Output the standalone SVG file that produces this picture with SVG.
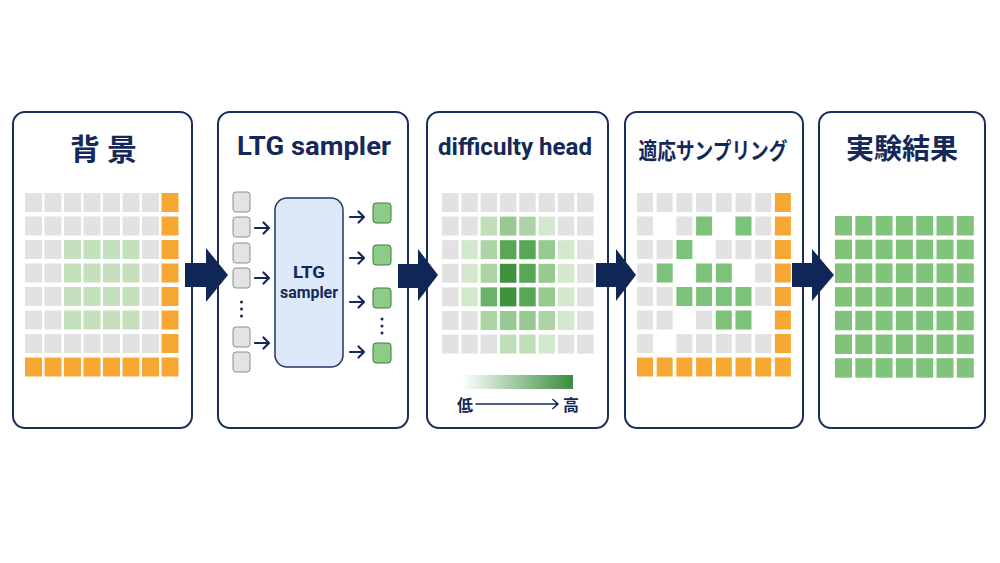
<svg xmlns="http://www.w3.org/2000/svg" width="1000" height="563" viewBox="0 0 1000 563">
<style>
.panel{fill:#fff;stroke:#1b2d5a;stroke-width:2}
.t{font-family:"Roboto","Liberation Sans",sans-serif;font-weight:700;fill:#15285a;text-anchor:middle}
.tj{font-family:"Noto Sans CJK JP",sans-serif;font-weight:700;fill:#15285a;text-anchor:middle}
.g{fill:#e2e2e2}
.o{fill:#f7a833}
.p{fill:#c5e0bd}
.e{fill:#7cc27a}
.f{fill:#80c47c}
.h1{fill:#d3e9cd}.h15{fill:#c0dfb9}.h2{fill:#acd4a5}.h25{fill:#97ca90}.h35{fill:#6cb268}.h4{fill:#58a757}.h5{fill:#3f933f}
.sb{fill:#e3e3e3;stroke:#8e8e8e;stroke-width:1}
.gb{fill:#8ccc86;stroke:#3d7a3d;stroke-width:1}
.sa{fill:none;stroke:#15285a;stroke-width:2.2;stroke-linecap:round;stroke-linejoin:round}
.big{fill:#0f2657}
.dot{fill:#15285a}
</style>
<defs>
<linearGradient id="grad" x1="0" y1="0" x2="1" y2="0">
<stop offset="0" stop-color="#ffffff"/>
<stop offset="1" stop-color="#3a8c3d"/>
</linearGradient>
</defs>
<rect width="1000" height="563" fill="#fff"/>

<g id="panel1">
<rect class="panel" x="13" y="112" width="179" height="316" rx="12"/>
<text class="tj" x="103.5" y="160" font-size="30">背 景</text>
<g id="grid1">
<g transform="translate(0,193)"><rect class="g" x="25" width="17" height="19"/><rect class="g" x="44.5" width="17" height="19"/><rect class="g" x="64" width="17" height="19"/><rect class="g" x="83.5" width="17" height="19"/><rect class="g" x="103" width="17" height="19"/><rect class="g" x="122.5" width="17" height="19"/><rect class="g" x="142" width="17" height="19"/><rect class="o" x="161.5" width="17" height="19"/></g>
<g transform="translate(0,216.5)"><rect class="g" x="25" width="17" height="19"/><rect class="g" x="44.5" width="17" height="19"/><rect class="g" x="64" width="17" height="19"/><rect class="g" x="83.5" width="17" height="19"/><rect class="g" x="103" width="17" height="19"/><rect class="g" x="122.5" width="17" height="19"/><rect class="g" x="142" width="17" height="19"/><rect class="o" x="161.5" width="17" height="19"/></g>
<g transform="translate(0,240)"><rect class="g" x="25" width="17" height="19"/><rect class="g" x="44.5" width="17" height="19"/><rect class="p" x="64" width="17" height="19"/><rect class="p" x="83.5" width="17" height="19"/><rect class="p" x="103" width="17" height="19"/><rect class="p" x="122.5" width="17" height="19"/><rect class="g" x="142" width="17" height="19"/><rect class="o" x="161.5" width="17" height="19"/></g>
<g transform="translate(0,263.5)"><rect class="g" x="25" width="17" height="19"/><rect class="g" x="44.5" width="17" height="19"/><rect class="p" x="64" width="17" height="19"/><rect class="p" x="83.5" width="17" height="19"/><rect class="p" x="103" width="17" height="19"/><rect class="p" x="122.5" width="17" height="19"/><rect class="g" x="142" width="17" height="19"/><rect class="o" x="161.5" width="17" height="19"/></g>
<g transform="translate(0,287)"><rect class="g" x="25" width="17" height="19"/><rect class="g" x="44.5" width="17" height="19"/><rect class="p" x="64" width="17" height="19"/><rect class="p" x="83.5" width="17" height="19"/><rect class="p" x="103" width="17" height="19"/><rect class="p" x="122.5" width="17" height="19"/><rect class="g" x="142" width="17" height="19"/><rect class="o" x="161.5" width="17" height="19"/></g>
<g transform="translate(0,310.5)"><rect class="g" x="25" width="17" height="19"/><rect class="g" x="44.5" width="17" height="19"/><rect class="p" x="64" width="17" height="19"/><rect class="p" x="83.5" width="17" height="19"/><rect class="p" x="103" width="17" height="19"/><rect class="p" x="122.5" width="17" height="19"/><rect class="g" x="142" width="17" height="19"/><rect class="o" x="161.5" width="17" height="19"/></g>
<g transform="translate(0,334)"><rect class="g" x="25" width="17" height="19"/><rect class="g" x="44.5" width="17" height="19"/><rect class="g" x="64" width="17" height="19"/><rect class="g" x="83.5" width="17" height="19"/><rect class="g" x="103" width="17" height="19"/><rect class="g" x="122.5" width="17" height="19"/><rect class="g" x="142" width="17" height="19"/><rect class="o" x="161.5" width="17" height="19"/></g>
<g transform="translate(0,357.5)"><rect class="o" x="25" width="17" height="19"/><rect class="o" x="44.5" width="17" height="19"/><rect class="o" x="64" width="17" height="19"/><rect class="o" x="83.5" width="17" height="19"/><rect class="o" x="103" width="17" height="19"/><rect class="o" x="122.5" width="17" height="19"/><rect class="o" x="142" width="17" height="19"/><rect class="o" x="161.5" width="17" height="19"/></g>
</g>
</g>

<g id="panel2">
<rect class="panel" x="218" y="112" width="190" height="316" rx="12"/>
<text class="t" x="314" y="155" font-size="25" textLength="154" lengthAdjust="spacingAndGlyphs">LTG sampler</text>
<g id="inputs">
<rect class="sb" x="233" y="192" width="17" height="20" rx="3"/>
<rect class="sb" x="233" y="217" width="17" height="20" rx="3"/>
<rect class="sb" x="233" y="243" width="17" height="20" rx="3"/>
<rect class="sb" x="233" y="268" width="17" height="20" rx="3"/>
<rect class="sb" x="233" y="327" width="17" height="20" rx="3"/>
<rect class="sb" x="233" y="352" width="17" height="20" rx="3"/>
<circle class="dot" cx="241.5" cy="302" r="1.5"/><circle class="dot" cx="241.5" cy="309" r="1.5"/><circle class="dot" cx="241.5" cy="316" r="1.5"/>
</g>
<g id="sampler-box">
<rect x="275" y="198" width="68" height="169" rx="12" fill="#dde8f8" stroke="#23365f" stroke-width="1.5"/>
<text class="t" x="309" y="278" font-size="17" textLength="32" lengthAdjust="spacingAndGlyphs">LTG</text>
<text class="t" x="309" y="298" font-size="17" textLength="58" lengthAdjust="spacingAndGlyphs">sampler</text>
</g>
<g id="outputs">
<rect class="gb" x="373" y="203" width="18" height="20" rx="3"/>
<rect class="gb" x="373" y="245" width="18" height="20" rx="3"/>
<rect class="gb" x="373" y="288" width="18" height="20" rx="3"/>
<rect class="gb" x="373" y="343" width="18" height="20" rx="3"/>
<circle class="dot" cx="382" cy="319" r="1.5"/><circle class="dot" cx="382" cy="326" r="1.5"/><circle class="dot" cx="382" cy="333" r="1.5"/>
</g>
</g>

<g id="panel3">
<rect class="panel" x="427" y="112" width="181" height="316" rx="12"/>
<text class="t" x="515" y="155" font-size="24" textLength="154" lengthAdjust="spacingAndGlyphs">difficulty head</text>
<g id="heatmap">
<g transform="translate(0,193)"><rect class="g" x="442" width="16.5" height="19"/><rect class="g" x="461.3" width="16.5" height="19"/><rect class="g" x="480.6" width="16.5" height="19"/><rect class="g" x="499.9" width="16.5" height="19"/><rect class="g" x="519.2" width="16.5" height="19"/><rect class="g" x="538.5" width="16.5" height="19"/><rect class="g" x="557.8" width="16.5" height="19"/><rect class="g" x="577.1" width="16.5" height="19"/></g>
<g transform="translate(0,216.6)"><rect class="g" x="442" width="16.5" height="19"/><rect class="g" x="461.3" width="16.5" height="19"/><rect class="h15" x="480.6" width="16.5" height="19"/><rect class="h25" x="499.9" width="16.5" height="19"/><rect class="h2" x="519.2" width="16.5" height="19"/><rect class="h1" x="538.5" width="16.5" height="19"/><rect class="g" x="557.8" width="16.5" height="19"/><rect class="g" x="577.1" width="16.5" height="19"/></g>
<g transform="translate(0,240.2)"><rect class="g" x="442" width="16.5" height="19"/><rect class="h1" x="461.3" width="16.5" height="19"/><rect class="h2" x="480.6" width="16.5" height="19"/><rect class="h4" x="499.9" width="16.5" height="19"/><rect class="h4" x="519.2" width="16.5" height="19"/><rect class="h25" x="538.5" width="16.5" height="19"/><rect class="h1" x="557.8" width="16.5" height="19"/><rect class="g" x="577.1" width="16.5" height="19"/></g>
<g transform="translate(0,263.8)"><rect class="g" x="442" width="16.5" height="19"/><rect class="h1" x="461.3" width="16.5" height="19"/><rect class="h2" x="480.6" width="16.5" height="19"/><rect class="h5" x="499.9" width="16.5" height="19"/><rect class="h4" x="519.2" width="16.5" height="19"/><rect class="h25" x="538.5" width="16.5" height="19"/><rect class="h1" x="557.8" width="16.5" height="19"/><rect class="g" x="577.1" width="16.5" height="19"/></g>
<g transform="translate(0,287.4)"><rect class="g" x="442" width="16.5" height="19"/><rect class="h1" x="461.3" width="16.5" height="19"/><rect class="h35" x="480.6" width="16.5" height="19"/><rect class="h5" x="499.9" width="16.5" height="19"/><rect class="h4" x="519.2" width="16.5" height="19"/><rect class="h25" x="538.5" width="16.5" height="19"/><rect class="h1" x="557.8" width="16.5" height="19"/><rect class="g" x="577.1" width="16.5" height="19"/></g>
<g transform="translate(0,311)"><rect class="g" x="442" width="16.5" height="19"/><rect class="g" x="461.3" width="16.5" height="19"/><rect class="h2" x="480.6" width="16.5" height="19"/><rect class="h25" x="499.9" width="16.5" height="19"/><rect class="h25" x="519.2" width="16.5" height="19"/><rect class="h2" x="538.5" width="16.5" height="19"/><rect class="h1" x="557.8" width="16.5" height="19"/><rect class="g" x="577.1" width="16.5" height="19"/></g>
<g transform="translate(0,334.6)"><rect class="g" x="442" width="16.5" height="19"/><rect class="g" x="461.3" width="16.5" height="19"/><rect class="g" x="480.6" width="16.5" height="19"/><rect class="h15" x="499.9" width="16.5" height="19"/><rect class="h15" x="519.2" width="16.5" height="19"/><rect class="h1" x="538.5" width="16.5" height="19"/><rect class="g" x="557.8" width="16.5" height="19"/><rect class="g" x="577.1" width="16.5" height="19"/></g>
</g>
<g id="legend">
<rect x="462" y="375" width="111" height="14" fill="url(#grad)"/>
<text class="tj" x="465" y="411" font-size="16">低</text>
<text class="tj" x="571" y="411" font-size="16">高</text>
</g>
</g>

<g id="panel4">
<rect class="panel" x="625" y="112" width="178" height="316" rx="12"/>
<text class="tj" x="713" y="159" font-size="23" textLength="149" lengthAdjust="spacingAndGlyphs">適応サンプリング</text>
<g id="grid4">
<g transform="translate(0,193)"><rect class="g" x="637" width="16" height="19"/><rect class="g" x="656.7" width="16" height="19"/><rect class="g" x="676.4" width="16" height="19"/><rect class="g" x="696.1" width="16" height="19"/><rect class="g" x="715.8" width="16" height="19"/><rect class="g" x="735.5" width="16" height="19"/><rect class="g" x="755.2" width="16" height="19"/><rect class="o" x="774.9" width="16" height="19"/></g>
<g transform="translate(0,216.5)"><rect class="g" x="637" width="16" height="19"/><rect class="g" x="676.4" width="16" height="19"/><rect class="e" x="696.1" width="16" height="19"/><rect class="e" x="735.5" width="16" height="19"/><rect class="g" x="755.2" width="16" height="19"/><rect class="o" x="774.9" width="16" height="19"/></g>
<g transform="translate(0,240)"><rect class="g" x="637" width="16" height="19"/><rect class="g" x="656.7" width="16" height="19"/><rect class="e" x="676.4" width="16" height="19"/><rect class="g" x="715.8" width="16" height="19"/><rect class="g" x="735.5" width="16" height="19"/><rect class="g" x="755.2" width="16" height="19"/><rect class="o" x="774.9" width="16" height="19"/></g>
<g transform="translate(0,263.5)"><rect class="g" x="637" width="16" height="19"/><rect class="e" x="656.7" width="16" height="19"/><rect class="e" x="696.1" width="16" height="19"/><rect class="e" x="715.8" width="16" height="19"/><rect class="g" x="755.2" width="16" height="19"/><rect class="o" x="774.9" width="16" height="19"/></g>
<g transform="translate(0,287)"><rect class="g" x="637" width="16" height="19"/><rect class="g" x="656.7" width="16" height="19"/><rect class="e" x="676.4" width="16" height="19"/><rect class="e" x="696.1" width="16" height="19"/><rect class="e" x="715.8" width="16" height="19"/><rect class="e" x="735.5" width="16" height="19"/><rect class="g" x="755.2" width="16" height="19"/><rect class="o" x="774.9" width="16" height="19"/></g>
<g transform="translate(0,310.5)"><rect class="g" x="637" width="16" height="19"/><rect class="g" x="656.7" width="16" height="19"/><rect class="g" x="696.1" width="16" height="19"/><rect class="e" x="715.8" width="16" height="19"/><rect class="e" x="735.5" width="16" height="19"/><rect class="o" x="774.9" width="16" height="19"/></g>
<g transform="translate(0,334)"><rect class="g" x="637" width="16" height="19"/><rect class="g" x="676.4" width="16" height="19"/><rect class="g" x="696.1" width="16" height="19"/><rect class="g" x="715.8" width="16" height="19"/><rect class="g" x="735.5" width="16" height="19"/><rect class="g" x="755.2" width="16" height="19"/><rect class="o" x="774.9" width="16" height="19"/></g>
<g transform="translate(0,357.5)"><rect class="o" x="637" width="16" height="19"/><rect class="o" x="656.7" width="16" height="19"/><rect class="o" x="676.4" width="16" height="19"/><rect class="o" x="696.1" width="16" height="19"/><rect class="o" x="715.8" width="16" height="19"/><rect class="o" x="735.5" width="16" height="19"/><rect class="o" x="755.2" width="16" height="19"/><rect class="o" x="774.9" width="16" height="19"/></g>
</g>
</g>

<g id="panel5">
<rect class="panel" x="819" y="112" width="166" height="316" rx="12"/>
<text class="tj" x="902" y="159" font-size="28">実験結果</text>
<g id="grid5">
<g transform="translate(0,216)"><rect class="f" x="835" width="17" height="19.5"/><rect class="f" x="855.3" width="17" height="19.5"/><rect class="f" x="875.6" width="17" height="19.5"/><rect class="f" x="895.9" width="17" height="19.5"/><rect class="f" x="916.2" width="17" height="19.5"/><rect class="f" x="936.5" width="17" height="19.5"/><rect class="f" x="956.8" width="17" height="19.5"/></g>
<g transform="translate(0,239.7)"><rect class="f" x="835" width="17" height="19.5"/><rect class="f" x="855.3" width="17" height="19.5"/><rect class="f" x="875.6" width="17" height="19.5"/><rect class="f" x="895.9" width="17" height="19.5"/><rect class="f" x="916.2" width="17" height="19.5"/><rect class="f" x="936.5" width="17" height="19.5"/><rect class="f" x="956.8" width="17" height="19.5"/></g>
<g transform="translate(0,263.4)"><rect class="f" x="835" width="17" height="19.5"/><rect class="f" x="855.3" width="17" height="19.5"/><rect class="f" x="875.6" width="17" height="19.5"/><rect class="f" x="895.9" width="17" height="19.5"/><rect class="f" x="916.2" width="17" height="19.5"/><rect class="f" x="936.5" width="17" height="19.5"/><rect class="f" x="956.8" width="17" height="19.5"/></g>
<g transform="translate(0,287.1)"><rect class="f" x="835" width="17" height="19.5"/><rect class="f" x="855.3" width="17" height="19.5"/><rect class="f" x="875.6" width="17" height="19.5"/><rect class="f" x="895.9" width="17" height="19.5"/><rect class="f" x="916.2" width="17" height="19.5"/><rect class="f" x="936.5" width="17" height="19.5"/><rect class="f" x="956.8" width="17" height="19.5"/></g>
<g transform="translate(0,310.8)"><rect class="f" x="835" width="17" height="19.5"/><rect class="f" x="855.3" width="17" height="19.5"/><rect class="f" x="875.6" width="17" height="19.5"/><rect class="f" x="895.9" width="17" height="19.5"/><rect class="f" x="916.2" width="17" height="19.5"/><rect class="f" x="936.5" width="17" height="19.5"/><rect class="f" x="956.8" width="17" height="19.5"/></g>
<g transform="translate(0,334.5)"><rect class="f" x="835" width="17" height="19.5"/><rect class="f" x="855.3" width="17" height="19.5"/><rect class="f" x="875.6" width="17" height="19.5"/><rect class="f" x="895.9" width="17" height="19.5"/><rect class="f" x="916.2" width="17" height="19.5"/><rect class="f" x="936.5" width="17" height="19.5"/><rect class="f" x="956.8" width="17" height="19.5"/></g>
<g transform="translate(0,358.2)"><rect class="f" x="835" width="17" height="19.5"/><rect class="f" x="855.3" width="17" height="19.5"/><rect class="f" x="875.6" width="17" height="19.5"/><rect class="f" x="895.9" width="17" height="19.5"/><rect class="f" x="916.2" width="17" height="19.5"/><rect class="f" x="936.5" width="17" height="19.5"/><rect class="f" x="956.8" width="17" height="19.5"/></g>
</g>
</g>

<g id="connectors">
<polygon class="big" points="185,263 206,263 206,248 228,275 206,302 206,287 185,287"/>
<polygon class="big" points="398,264 418,264 418,249 438,275 418,301 418,288 398,288"/>
<polygon class="big" points="596,263 616,263 616,249 636,275 616,301 616,287 596,287"/>
<polygon class="big" points="792,263 812,263 812,249 834,275 812,301 812,287 792,287"/>
<path class="sa" d="M255,228 H269 M263.5,222.5 L269,228 L263.5,233.5"/>
<path class="sa" d="M255,278 H269 M263.5,272.5 L269,278 L263.5,283.5"/>
<path class="sa" d="M255,343 H269 M263.5,337.5 L269,343 L263.5,348.5"/>
<path class="sa" d="M350,217 H364 M358.5,211.5 L364,217 L358.5,222.5"/>
<path class="sa" d="M350,258 H364 M358.5,252.5 L364,258 L358.5,263.5"/>
<path class="sa" d="M350,302 H364 M358.5,296.5 L364,302 L358.5,307.5"/>
<path class="sa" d="M350,352 H364 M358.5,346.5 L364,352 L358.5,357.5"/>
<path d="M476,404 H558 M553,399.5 L558,404 L553,408.5" fill="none" stroke="#15285a" stroke-width="1.6" stroke-linecap="round" stroke-linejoin="round"/>
</g>
</svg>
